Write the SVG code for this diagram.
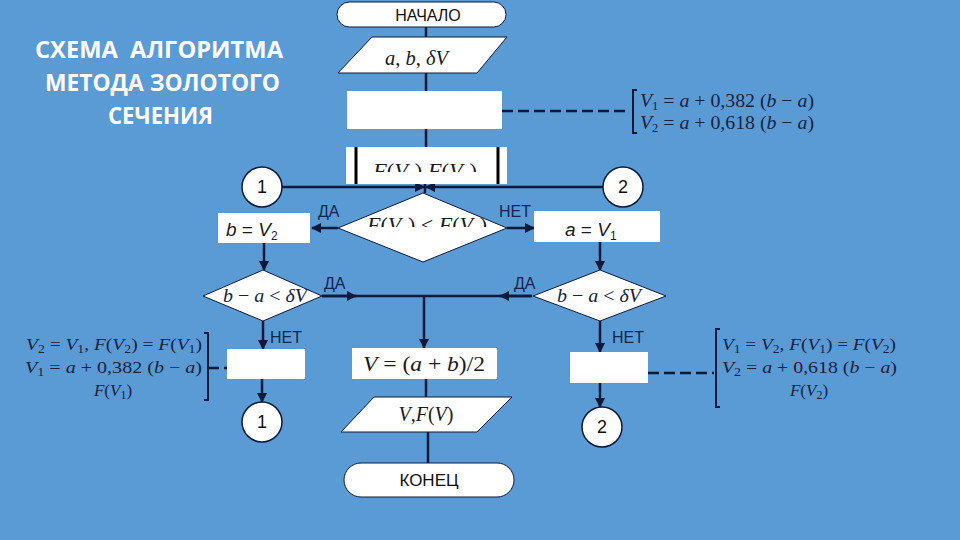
<svg xmlns="http://www.w3.org/2000/svg" width="960" height="540" viewBox="0 0 960 540">
<style>
.bg{fill:#5b9bd5}
.box{fill:#ffffff;stroke:none}
.ln{stroke:#0b1a3b;stroke-width:2.5;fill:none}
.dash{stroke:#0b1a3b;stroke-width:2.5;fill:none;stroke-dasharray:11 5}
.br{stroke:#0b1a3b;stroke-width:2;fill:none}
.title{font-family:"Open Sans","Liberation Sans",Arial,sans-serif;font-weight:bold;font-size:23px;fill:#ffffff}
.lbl{font-family:"Liberation Sans",Arial,sans-serif;font-size:16px;fill:#12254d}
.term{font-family:"Liberation Sans",Arial,sans-serif;font-size:16px;fill:#111111;text-anchor:middle}
.m{font-family:"Liberation Serif","Times New Roman",serif;font-size:19px;fill:#14233f}
.n{font-family:"Liberation Serif","Times New Roman",serif;font-size:17px;fill:#14233f}
.mb{font-family:"Liberation Serif","Times New Roman",serif;font-size:20px;fill:#1a1a1a}
.ms{font-family:"Liberation Sans",Arial,sans-serif;font-size:19px;fill:#1a1a1a}
.i{font-style:italic}
.sub{font-size:12px}
.num{font-family:"Liberation Sans",Arial,sans-serif;font-size:18px;fill:#111111;text-anchor:middle}
</style>
<defs>
<marker id="ar" viewBox="0 0 10 10" refX="9" refY="5" markerWidth="4" markerHeight="4" orient="auto" markerUnits="strokeWidth">
<path d="M0 0 L10 5 L0 10 z" fill="#0b1a3b"/>
</marker>
<clipPath id="c1"><rect x="346" y="147" width="161" height="25"/></clipPath>
<clipPath id="c2"><rect x="338" y="190" width="170" height="37"/></clipPath>
</defs>
<rect class="bg" x="0" y="0" width="960" height="540"/>

<g id="title">
<text class="title" x="35" y="58" textLength="248" lengthAdjust="spacingAndGlyphs" style="white-space:pre">СХЕМА  АЛГОРИТМА</text>
<text class="title" x="45" y="91" textLength="235" lengthAdjust="spacingAndGlyphs">МЕТОДА ЗОЛОТОГО</text>
<text class="title" x="108" y="124" textLength="105" lengthAdjust="spacingAndGlyphs">СЕЧЕНИЯ</text>
</g>

<g id="connectors">
<path class="ln" d="M426 27 V37"/>
<path class="ln" d="M426 73 V91"/>
<path class="ln" d="M426 129 V147"/>
<path class="ln" d="M425 184 V193"/>
<path class="dash" d="M502 111 H630"/>
<path class="ln" d="M282 187 H424" marker-end="url(#ar)"/>
<path class="ln" d="M603 187 H426" marker-end="url(#ar)"/>
<path class="ln" d="M338 228 H312" marker-end="url(#ar)"/>
<path class="ln" d="M507 228 H534" marker-end="url(#ar)"/>
<path class="ln" d="M264 243 V270" marker-end="url(#ar)"/>
<path class="ln" d="M600 242 V270" marker-end="url(#ar)"/>
<path class="ln" d="M322 296 H532"/>
<path class="ln" d="M322 296 H356" marker-end="url(#ar)"/>
<path class="ln" d="M532 296 H500" marker-end="url(#ar)"/>
<path class="ln" d="M424 296 V348" marker-end="url(#ar)"/>
<path class="ln" d="M263 321 V349" marker-end="url(#ar)"/>
<path class="ln" d="M262 379 V402" marker-end="url(#ar)"/>
<path class="ln" d="M600 321 V352" marker-end="url(#ar)"/>
<path class="ln" d="M600 383 V407" marker-end="url(#ar)"/>
<path class="dash" d="M208 368 H227"/>
<path class="dash" d="M648 373 H714"/>
<path class="ln" d="M426 379 V397"/>
<path class="ln" d="M428 432 V463"/>
</g>

<g id="start">
<rect x="337" y="2" width="169" height="25" rx="12.5" fill="#fff" stroke="#0b1a3b" stroke-width="1"/>
<text class="term" x="428" y="21">НАЧАЛО</text>
</g>

<g id="input">
<polygon points="372,37 507,37 477,73 338,73" fill="#fff" stroke="#0b1a3b" stroke-width="1"/>
<text class="mb" x="385" y="65" textLength="63" lengthAdjust="spacingAndGlyphs"><tspan class="i">a</tspan>, <tspan class="i">b</tspan>, <tspan class="i">δV</tspan></text>
</g>

<g id="init">
<rect class="box" x="347" y="91" width="155" height="38" stroke="#0b1a3b" stroke-width="1"/>
</g>

<g id="note-top">
<path class="br" d="M637 90 H633 V133 H637"/>
<text class="m" x="640" y="107" textLength="174" lengthAdjust="spacingAndGlyphs"><tspan class="i">V</tspan><tspan class="sub" dy="3">1</tspan><tspan dy="-3"> = </tspan><tspan class="i">a</tspan> + 0,382 (<tspan class="i">b</tspan> − <tspan class="i">a</tspan>)</text>
<text class="m" x="640" y="129" textLength="174" lengthAdjust="spacingAndGlyphs"><tspan class="i">V</tspan><tspan class="sub" dy="3">2</tspan><tspan dy="-3"> = </tspan><tspan class="i">a</tspan> + 0,618 (<tspan class="i">b</tspan> − <tspan class="i">a</tspan>)</text>
</g>

<g id="calc">
<rect class="box" x="346" y="147" width="161" height="37"/>
<path d="M356 147 V184 M498 147 V184" stroke="#000" stroke-width="3"/>
<text class="mb" x="373" y="178" clip-path="url(#c1)" textLength="104" lengthAdjust="spacingAndGlyphs"><tspan class="i">F</tspan>(<tspan class="i">V</tspan><tspan class="sub" dy="4">1</tspan><tspan dy="-4">) </tspan><tspan class="i">F</tspan>(<tspan class="i">V</tspan><tspan class="sub" dy="4">2</tspan><tspan dy="-4">)</tspan></text>
</g>

<g id="conn1-top">
<circle cx="262" cy="187" r="20" fill="#fff" stroke="#0b1a3b" stroke-width="1.5"/>
<text class="num" x="262" y="193">1</text>
</g>
<g id="conn2-top">
<circle cx="623" cy="187" r="20" fill="#fff" stroke="#0b1a3b" stroke-width="1.5"/>
<text class="num" x="623" y="193">2</text>
</g>

<g id="cmp">
<polygon points="423,193 507,228 423,262 338,228" fill="#fff" stroke="#0b1a3b" stroke-width="1"/>
<text class="mb" x="367" y="232" clip-path="url(#c2)" textLength="120" lengthAdjust="spacingAndGlyphs"><tspan class="i">F</tspan>(<tspan class="i">V</tspan><tspan class="sub" dy="4">1</tspan><tspan dy="-4">) &lt; </tspan><tspan class="i">F</tspan>(<tspan class="i">V</tspan><tspan class="sub" dy="4">2</tspan><tspan dy="-4">)</tspan></text>
</g>
<text class="lbl" x="318" y="217">ДА</text>
<text class="lbl" x="499" y="217">НЕТ</text>

<g id="setb">
<rect class="box" x="218" y="213" width="92" height="30"/>
<text class="ms" x="226" y="236"><tspan class="i">b</tspan> = <tspan class="i">V</tspan><tspan class="sub" dy="4">2</tspan></text>
</g>
<g id="seta">
<rect class="box" x="534" y="211" width="126" height="31"/>
<text class="ms" x="565" y="236"><tspan class="i">a</tspan> = <tspan class="i">V</tspan><tspan class="sub" dy="4">1</tspan></text>
</g>

<g id="test-left">
<polygon points="263,270 322,296 263,321 203,296" fill="#fff" stroke="#0b1a3b" stroke-width="1"/>
<text class="m" x="223" y="302" textLength="84" lengthAdjust="spacingAndGlyphs"><tspan class="i">b</tspan> − <tspan class="i">a</tspan> &lt; <tspan class="i">δV</tspan></text>
</g>
<g id="test-right">
<polygon points="600,270 666,296 600,321 533,296" fill="#fff" stroke="#0b1a3b" stroke-width="1"/>
<text class="m" x="557" y="302" textLength="84" lengthAdjust="spacingAndGlyphs"><tspan class="i">b</tspan> − <tspan class="i">a</tspan> &lt; <tspan class="i">δV</tspan></text>
</g>
<text class="lbl" x="324" y="289">ДА</text>
<text class="lbl" x="514" y="289">ДА</text>
<text class="lbl" x="270" y="343">НЕТ</text>
<text class="lbl" x="612" y="343">НЕТ</text>

<g id="upd-left">
<rect class="box" x="227" y="349" width="78" height="30"/>
</g>
<g id="note-left">
<path class="br" d="M204 333 H208 V400 H204"/>
<text class="n" x="202" y="350" text-anchor="end" textLength="176" lengthAdjust="spacingAndGlyphs"><tspan class="i">V</tspan><tspan class="sub" dy="3">2</tspan><tspan dy="-3"> = </tspan><tspan class="i">V</tspan><tspan class="sub" dy="3">1</tspan><tspan dy="-3">, </tspan><tspan class="i">F</tspan>(<tspan class="i">V</tspan><tspan class="sub" dy="3">2</tspan><tspan dy="-3">) = </tspan><tspan class="i">F</tspan>(<tspan class="i">V</tspan><tspan class="sub" dy="3">1</tspan><tspan dy="-3">)</tspan></text>
<text class="n" x="202" y="373" text-anchor="end" textLength="177" lengthAdjust="spacingAndGlyphs"><tspan class="i">V</tspan><tspan class="sub" dy="3">1</tspan><tspan dy="-3"> = </tspan><tspan class="i">a</tspan> + 0,382 (<tspan class="i">b</tspan> − <tspan class="i">a</tspan>)</text>
<text class="n" x="113" y="396" text-anchor="middle"><tspan class="i">F</tspan>(<tspan class="i">V</tspan><tspan class="sub" dy="3">1</tspan><tspan dy="-3">)</tspan></text>
</g>
<g id="conn1-bottom">
<circle cx="262" cy="422" r="20" fill="#fff" stroke="#0b1a3b" stroke-width="1.5"/>
<text class="num" x="262" y="428">1</text>
</g>

<g id="upd-right">
<rect class="box" x="570" y="352" width="78" height="31"/>
</g>
<g id="note-right">
<path class="br" d="M720 329 H716 V407 H720"/>
<text class="n" x="722" y="350" textLength="174" lengthAdjust="spacingAndGlyphs"><tspan class="i">V</tspan><tspan class="sub" dy="3">1</tspan><tspan dy="-3"> = </tspan><tspan class="i">V</tspan><tspan class="sub" dy="3">2</tspan><tspan dy="-3">, </tspan><tspan class="i">F</tspan>(<tspan class="i">V</tspan><tspan class="sub" dy="3">1</tspan><tspan dy="-3">) = </tspan><tspan class="i">F</tspan>(<tspan class="i">V</tspan><tspan class="sub" dy="3">2</tspan><tspan dy="-3">)</tspan></text>
<text class="n" x="722" y="373" textLength="175" lengthAdjust="spacingAndGlyphs"><tspan class="i">V</tspan><tspan class="sub" dy="3">2</tspan><tspan dy="-3"> = </tspan><tspan class="i">a</tspan> + 0,618 (<tspan class="i">b</tspan> − <tspan class="i">a</tspan>)</text>
<text class="n" x="809" y="396" text-anchor="middle"><tspan class="i">F</tspan>(<tspan class="i">V</tspan><tspan class="sub" dy="3">2</tspan><tspan dy="-3">)</tspan></text>
</g>
<g id="conn2-bottom">
<circle cx="602" cy="427" r="20" fill="#fff" stroke="#0b1a3b" stroke-width="1.5"/>
<text class="num" x="602" y="433">2</text>
</g>

<g id="mid">
<rect class="box" x="352" y="348" width="145" height="31"/>
<text class="mb" x="424" y="371" text-anchor="middle" textLength="122" lengthAdjust="spacingAndGlyphs"><tspan class="i">V</tspan> = (<tspan class="i">a</tspan> + <tspan class="i">b</tspan>)/2</text>
</g>

<g id="output">
<polygon points="374,397 512,397 477,432 341,432" fill="#fff" stroke="#0b1a3b" stroke-width="1"/>
<text class="mb" x="426" y="421" text-anchor="middle"><tspan class="i">V</tspan>,<tspan class="i">F</tspan>(<tspan class="i">V</tspan>)</text>
</g>

<g id="end">
<rect x="344" y="463" width="170" height="34" rx="17" fill="#fff" stroke="#0b1a3b" stroke-width="1"/>
<text class="term" x="429" y="486" style="font-size:17px">КОНЕЦ</text>
</g>
</svg>
